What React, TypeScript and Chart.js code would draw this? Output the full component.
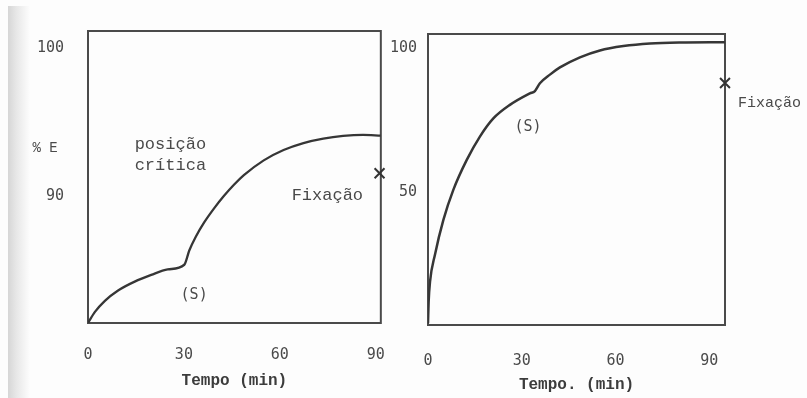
import React, { useEffect, useRef } from "react";
import { Chart, registerables } from "chart.js";

Chart.register(...registerables);

// ---- data (left panel: % E vs Tempo) ----
const leftTime = [0, 2.17, 5.28, 9.41, 14.6, 19.78, 24.94, 30.12, 31.68, 33.76, 36.34, 39.44, 42.55, 45.65, 48.76, 54.97, 61.18, 67.39, 73.6, 79.81, 86.02, 91.6];
const leftValues = [81.4, 82.15, 82.9, 83.6, 84.2, 84.65, 85.02, 85.34, 86.3, 87.25, 88.2, 89.15, 90.0, 90.75, 91.4, 92.4, 93.1, 93.57, 93.87, 94.05, 94.12, 94.08];
const leftFixTime = [91.2];
const leftFixValue = [91.53];
const leftXTicks = [0, 30, 60, 90];
const leftYTicks = [90, 100];

// ---- data (right panel) ----
const rightTime = [0, 0.2, 0.64, 2.24, 4.9, 8.1, 12.4, 16.6, 20.9, 26.2, 32.6, 34.2, 35.8, 39.0, 42.2, 48.6, 55.0, 62.5, 71.0, 80.6, 95];
const rightValues = [4.6, 12.0, 19.0, 28.5, 40.4, 50.9, 61.3, 69.4, 75.7, 80.4, 84.4, 85.2, 87.9, 90.9, 93.4, 96.9, 99.3, 100.8, 101.7, 102.05, 102.15];
const rightFixTime = [95];
const rightFixValue = [88.0];
const rightXTicks = [0, 30, 60, 90];
const rightYTicks = [50, 100];

const LINE = "#363636";
const TEXT = "#4a4a4a";
const MONO_SANS = "'DejaVu Sans Mono', monospace";
const TYPE = "'Liberation Mono', 'Courier New', monospace";

const framePlugin = {
  id: "frameNotes",
  beforeDatasetsDraw(chart: any, _a: any, opts: any) {
    const { ctx, chartArea } = chart;
    ctx.save();
    ctx.strokeStyle = opts.frameColor || "#444";
    ctx.lineWidth = 2;
    ctx.strokeRect(chartArea.left, chartArea.top, chartArea.right - chartArea.left, chartArea.bottom - chartArea.top);
    ctx.restore();
  },
  afterDatasetsDraw(chart: any, _a: any, opts: any) {
    const { ctx, chartArea, scales } = chart;
    ctx.save();
    for (const n of opts.notes || []) {
      ctx.font = n.font;
      ctx.fillStyle = n.color || TEXT;
      ctx.textAlign = n.align || "left";
      ctx.textBaseline = "middle";
      let px: number;
      if (n.anchor === "left") px = chartArea.left + n.dx;
      else if (n.anchor === "right") px = chartArea.right + n.dx;
      else px = scales.x.getPixelForValue(n.x);
      const py = scales.y.getPixelForValue(n.y);
      ctx.fillText(n.text, px, py);
    }
    ctx.restore();
  },
};

function makeConfig(p: any) {
  return {
    type: "line",
    data: {
      datasets: [
        {
          data: p.time.map((t: number, i: number) => ({ x: t, y: p.values[i] })),
          borderColor: LINE,
          borderWidth: p.lineWidth,
          pointRadius: 0,
          cubicInterpolationMode: "monotone",
          fill: false,
        },
        {
          data: p.fixTime.map((t: number, i: number) => ({ x: t, y: p.fixValue[i] })),
          showLine: false,
          pointStyle: "crossRot",
          pointRadius: 7,
          borderColor: "#333",
          borderWidth: 2,
          clip: false,
        },
      ],
    },
    options: {
      responsive: false,
      animation: false,
      events: [],
      layout: { padding: p.padding },
      plugins: {
        legend: { display: false },
        tooltip: { enabled: false },
        frameNotes: { frameColor: "#4a4a4a", notes: p.notes },
      },
      scales: {
        x: {
          type: "linear",
          min: 0,
          max: p.xMax,
          grid: { display: false },
          border: { display: false },
          afterBuildTicks: (s: any) => {
            s.ticks = p.xTicks.map((v: number) => ({ value: v }));
          },
          afterFit: (s: any) => {
            s.height = p.xHeight;
          },
          ticks: {
            padding: p.xTickPad,
            maxRotation: 0,
            autoSkip: false,
            color: TEXT,
            font: { family: MONO_SANS, size: 15 },
          },
          title: {
            display: true,
            text: p.xTitle,
            color: "#3c3c3c",
            padding: { top: 0, bottom: p.titlePad },
            font: { family: TYPE, size: 16, weight: "bold" },
          },
        },
        y: {
          type: "linear",
          min: p.yMin,
          max: p.yMax,
          grid: { display: false },
          border: { display: false },
          afterBuildTicks: (s: any) => {
            s.ticks = p.yTicks.map((v: number) => ({ value: v }));
          },
          afterFit: (s: any) => {
            s.width = p.yWidth;
          },
          ticks: {
            padding: p.yTickPad,
            autoSkip: false,
            color: TEXT,
            font: { family: MONO_SANS, size: 15 },
          },
        },
      },
    },
    plugins: [framePlugin],
  } as any;
}

const leftPanel = {
  time: leftTime,
  values: leftValues,
  fixTime: leftFixTime,
  fixValue: leftFixValue,
  xTicks: leftXTicks,
  yTicks: leftYTicks,
  xMax: 91.6,
  yMin: 81.4,
  yMax: 101.15,
  lineWidth: 2.3,
  padding: { top: 31, right: 15, left: 0, bottom: 0 },
  xHeight: 75,
  yWidth: 88,
  xTickPad: 15,
  yTickPad: 16,
  titlePad: 7,
  xTitle: "Tempo (min)",
  notes: [
    { text: "posição", x: 14.6, y: 93.45, font: `17px ${TYPE}` },
    { text: "crítica", x: 14.6, y: 92.03, font: `17px ${TYPE}` },
    { text: "(S)", x: 33.2, y: 83.3, font: `15px ${MONO_SANS}`, align: "center" },
    { text: "Fixação", x: 63.7, y: 90.0, font: `17px ${TYPE}` },
    { text: "% E", anchor: "left", dx: -43, y: 93.2, font: `14px ${TYPE}`, align: "center" },
  ],
};

const rightPanel = {
  time: rightTime,
  values: rightValues,
  fixTime: rightFixTime,
  fixValue: rightFixValue,
  xTicks: rightXTicks,
  yTicks: rightYTicks,
  xMax: 95,
  yMin: 4,
  yMax: 105,
  lineWidth: 2.5,
  padding: { top: 34, right: 82, left: 0, bottom: 0 },
  xHeight: 73,
  yWidth: 43,
  xTickPad: 19,
  yTickPad: 3,
  titlePad: 3,
  xTitle: "Tempo. (min)",
  notes: [
    { text: "(S)", x: 32, y: 72.7, font: `15px ${MONO_SANS}`, align: "center" },
    { text: "Fixação", anchor: "right", dx: 13, y: 81.1, font: `15px ${TYPE}` },
  ],
};

function Panel({ panel, left, width }: { panel: any; left: number; width: number }) {
  const ref = useRef<HTMLCanvasElement | null>(null);
  useEffect(() => {
    const chart = new Chart(ref.current as HTMLCanvasElement, makeConfig(panel));
    return () => chart.destroy();
  }, [panel]);
  return (
    <canvas
      ref={ref}
      width={width}
      height={398}
      style={{ position: "absolute", left, top: 0, width, height: 398 }}
    />
  );
}

export default function App() {
  return (
    <div
      style={{
        position: "absolute",
        left: 0,
        top: 0,
        width: 807,
        height: 398,
        background: "#fdfdfd",
        overflow: "hidden",
      }}
    >
      <div
        style={{
          position: "absolute",
          left: 8,
          top: 6,
          width: 22,
          height: 392,
          background: "linear-gradient(to right, #d6d6d6, #e8e8e8 40%, #fdfdfd)",
        }}
      />
      <Panel panel={leftPanel} left={0} width={400} />
      <Panel panel={rightPanel} left={385} width={422} />
    </div>
  );
}
